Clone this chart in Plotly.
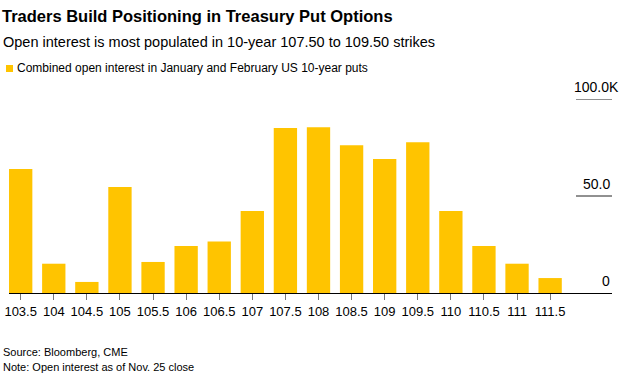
import plotly.graph_objects as go

strikes = ["103.5", "104", "104.5", "105", "105.5", "106", "106.5", "107", "107.5",
           "108", "108.5", "109", "109.5", "110", "110.5", "111", "111.5"]
open_interest_k = [63.9, 15.1, 5.7, 54.6, 16.0, 24.2, 26.6, 42.3, 85.0,
                   85.4, 76.1, 69.1, 77.7, 42.3, 24.2, 15.1, 7.7]
y_ticks = [0, 50, 100]
y_tick_labels = ["0", "50.0", "100.0K"]

title = "Traders Build Positioning in Treasury Put Options"
subtitle = "Open interest is most populated in 10-year 107.50 to 109.50 strikes"
legend_text = "Combined open interest in January and February US 10-year puts"
source = "Source: Bloomberg, CME"
note = "Note: Open interest as of Nov. 25 close"

BAR = "#FFC400"
W, H = 635, 377
L, R, T, B = 9, 23, 99, 84
pw, ph = W - L - R, H - T - B

def px_y(p):
    return (H - B - p) / ph

def px_x(p):
    return (p - L) / pw

FONT = "Liberation Sans, Arial, Helvetica, sans-serif"

fig = go.Figure(go.Bar(x=strikes, y=open_interest_k, marker=dict(color=BAR, line=dict(width=0)),
                       showlegend=False, hoverinfo="x+y"))

annotations = []
shapes = []
for v, lab in zip(y_ticks, y_tick_labels):
    annotations.append(dict(x=1, xref="paper", y=v, yref="y", yshift=12,
                            xshift=9 if lab.endswith("K") else 0, text=lab,
                            xanchor="right", yanchor="middle", showarrow=False,
                            font=dict(family=FONT, size=14, color="#000")))
    if v > 0:
        shapes.append(dict(type="line", xref="paper", x0=px_x(576), x1=1, yref="y", y0=v, y1=v,
                           line=dict(color="#222", width=1)))

annotations += [
    dict(x=px_x(1), xref="paper", y=px_y(42), yref="paper", text=subtitle, xanchor="left",
         yanchor="middle", showarrow=False, font=dict(family=FONT, size=14.5, color="#000")),
    dict(x=px_x(15), xref="paper", y=px_y(68), yref="paper", text=legend_text, xanchor="left",
         yanchor="middle", showarrow=False, font=dict(family=FONT, size=12, color="#000")),
    dict(x=px_x(1), xref="paper", y=px_y(352), yref="paper", text=source, xanchor="left",
         yanchor="middle", showarrow=False, font=dict(family=FONT, size=11, color="#000")),
    dict(x=px_x(1), xref="paper", y=px_y(367), yref="paper", text=note, xanchor="left",
         yanchor="middle", showarrow=False, font=dict(family=FONT, size=11, color="#000")),
]
shapes.append(dict(type="rect", xref="paper", yref="paper", x0=px_x(6), x1=px_x(13),
                   y0=px_y(72), y1=px_y(65), fillcolor=BAR, line=dict(width=0)))

fig.update_layout(
    width=W, height=H,
    margin=dict(l=L, r=R, t=T, b=B, pad=0, autoexpand=False),
    paper_bgcolor="white", plot_bgcolor="white",
    title=dict(text="<b>" + title + "</b>", x=2 / W, xanchor="left", y=1 - 16 / H, yanchor="middle",
               font=dict(family=FONT, size=16.5, color="#000")),
    bargap=0.295,
    xaxis=dict(type="category", range=[-0.353, 17.87], showgrid=False, showline=True,
               automargin=False,
               linecolor="#000", linewidth=1, ticks="outside", ticklen=6, tickcolor="#777",
               tickwidth=1, tickfont=dict(family=FONT, size=13, color="#000"), fixedrange=True),
    yaxis=dict(range=[0, 100], showgrid=False, showticklabels=False, zeroline=False,
               automargin=False, showline=False, fixedrange=True),
    annotations=annotations, shapes=shapes,
)

fig.write_html("out.html", config={"displayModeBar": False},
               post_script="document.body.style.margin='0';document.body.style.overflow='hidden';")
